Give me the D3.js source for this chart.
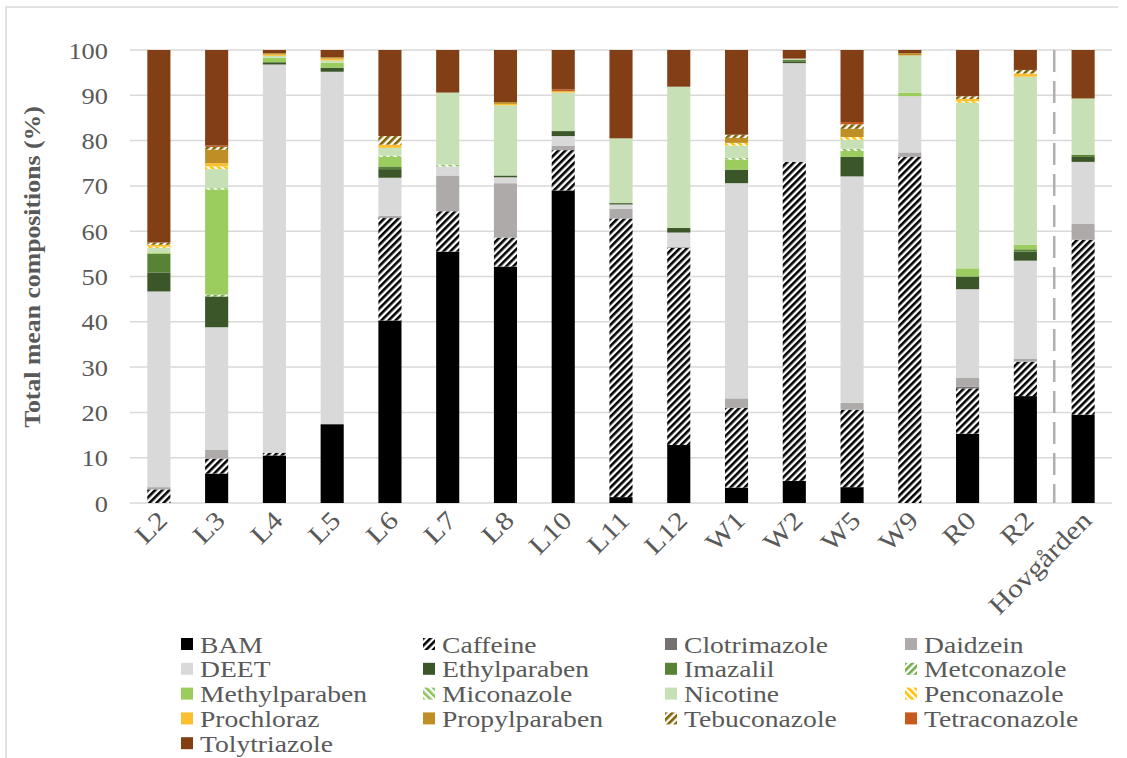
<!DOCTYPE html>
<html>
<head>
<meta charset="utf-8">
<script src="https://cdn.jsdelivr.net/npm/d3@7"></script>
<style>
  html, body { margin: 0; padding: 0; background: #ffffff; }
  svg { display: block; }
  text { font-family: "Liberation Serif", "Times New Roman", serif; fill: #595959; }
</style>
</head>
<body>
<svg id="chart" width="1127" height="758"></svg>
<script>
// Sampling sites along the x axis
const sites = ["L2", "L3", "L4", "L5", "L6", "L7", "L8", "L10", "L11", "L12",
               "W1", "W2", "W5", "W9", "R0", "R2", "Hovgården"];

// Mean composition (%) of each compound per site
const BAM           = [0, 6.5, 10.5, 17.4, 40.3, 55.5, 52.2, 69.0, 1.3, 12.8, 3.4, 4.9, 3.5, 0, 15.3, 23.6, 19.5];
const Caffeine      = [3.0, 3.3, 0.6, 0, 22.6, 8.9, 6.4, 8.9, 61.5, 43.5, 17.6, 70.4, 17.1, 76.4, 10.0, 7.6, 38.6];
const Clotrimazole  = [0, 0, 0, 0, 0, 0, 0, 0, 0, 0, 0, 0, 0, 0, 0.4, 0, 0];
const Daidzein      = [0.5, 1.9, 0, 0, 0.5, 7.9, 12.0, 1.0, 2.1, 0.3, 2.1, 0, 1.5, 1.0, 2.0, 0.7, 3.6];
const DEET          = [43.2, 27.1, 85.7, 77.8, 8.4, 2.0, 1.3, 2.1, 1.0, 3.1, 47.5, 21.8, 50.0, 12.4, 19.5, 21.6, 13.6];
const Ethylparaben  = [4.2, 6.8, 0.5, 0.9, 1.9, 0, 0.4, 1.1, 0.3, 1.0, 3.0, 0.4, 4.3, 0, 2.8, 2.0, 1.1];
const Imazalil      = [4.1, 0, 0, 0, 0.6, 0, 0, 0, 0, 0, 0, 0.3, 0, 0, 0, 0.5, 0.5];
const Metconazole   = [0, 0.4, 0, 0, 0, 0, 0, 0, 0, 0, 0, 0, 0, 0, 0, 0, 0];
const Methylparaben = [0.3, 23.2, 1.0, 1.1, 2.1, 0, 0, 0, 0, 0, 2.2, 0, 1.3, 0.8, 1.8, 1.0, 0];
const Miconazole    = [0, 0.3, 0, 0, 0.3, 0.4, 0, 0, 0, 0, 0.4, 0, 0.5, 0, 0, 0, 0];
const Nicotine      = [1.0, 4.2, 0.4, 0.5, 1.7, 15.9, 15.5, 8.5, 14.3, 31.2, 2.7, 0.3, 2.0, 8.2, 36.5, 37.1, 12.4];
const Penconazole   = [0.3, 0.6, 0, 0, 0, 0, 0, 0, 0, 0, 0.6, 0, 0.6, 0, 0.4, 0, 0];
const Prochloraz    = [0.4, 0.7, 0.3, 0.4, 0.7, 0, 0.3, 0.3, 0, 0, 0, 0, 0, 0, 0.5, 0.7, 0];
const Propylparaben = [0, 3.0, 0.3, 0.3, 0, 0, 0.4, 0, 0, 0, 1.1, 0, 1.8, 0.5, 0, 0, 0];
const Tebuconazole  = [0.5, 0.6, 0, 0, 1.9, 0, 0, 0, 0, 0, 0.7, 0, 1.0, 0, 0.6, 0.8, 0];
const Tetraconazole = [0, 0.3, 0, 0, 0, 0, 0, 0.4, 0, 0, 0, 0, 0.5, 0, 0, 0, 0];
const Tolytriazole  = [42.5, 21.1, 0.7, 1.6, 19.0, 9.4, 11.5, 8.7, 19.5, 8.1, 18.7, 1.9, 15.9, 0.7, 10.2, 4.4, 10.7];

const yTicks = [0, 10, 20, 30, 40, 50, 60, 70, 80, 90, 100];

// Series in stacking order (bottom to top), with fill style
const series = [
  { name: "BAM",           values: BAM,           color: "#000000" },
  { name: "Caffeine",      values: Caffeine,      color: "#000000", hatch: "up" },
  { name: "Clotrimazole",  values: Clotrimazole,  color: "#767171" },
  { name: "Daidzein",      values: Daidzein,      color: "#aeaaaa" },
  { name: "DEET",          values: DEET,          color: "#d9d9d9" },
  { name: "Ethylparaben",  values: Ethylparaben,  color: "#3b5628" },
  { name: "Imazalil",      values: Imazalil,      color: "#588337" },
  { name: "Metconazole",   values: Metconazole,   color: "#70ad47", hatch: "up" },
  { name: "Methylparaben", values: Methylparaben, color: "#9bcc5e" },
  { name: "Miconazole",    values: Miconazole,    color: "#8cc15a", hatch: "down" },
  { name: "Nicotine",      values: Nicotine,      color: "#c8e0b6" },
  { name: "Penconazole",   values: Penconazole,   color: "#ffc000", hatch: "down" },
  { name: "Prochloraz",    values: Prochloraz,    color: "#fbbf2f" },
  { name: "Propylparaben", values: Propylparaben, color: "#bf8f25" },
  { name: "Tebuconazole",  values: Tebuconazole,  color: "#7f6000", hatch: "up" },
  { name: "Tetraconazole", values: Tetraconazole, color: "#c55a1c" },
  { name: "Tolytriazole",  values: Tolytriazole,  color: "#823f16" }
];

const svg = d3.select("#chart");
const W = 1127, H = 758;
const plot = { left: 130, right: 1112, top: 50, bottom: 503 };

// Hatch patterns
const defs = svg.append("defs");
series.forEach((s, i) => {
  if (!s.hatch) return;
  const p = defs.append("pattern")
    .attr("id", "hatch" + i)
    .attr("patternUnits", "userSpaceOnUse")
    .attr("width", 5).attr("height", 5)
    .attr("patternTransform", s.hatch === "up" ? "rotate(45)" : "rotate(-45)");
  p.append("rect").attr("width", 5).attr("height", 5).attr("fill", "#ffffff");
  p.append("rect").attr("width", 2.6).attr("height", 5).attr("fill", s.color);
});
const fillOf = (s, i) => s.hatch ? `url(#hatch${i})` : s.color;

// Chart frame
svg.append("path")
  .attr("d", `M6,${H} L6,7 L1118,7`)
  .attr("fill", "none").attr("stroke", "#d9d9d9").attr("stroke-width", 1.5);

const x = d3.scaleBand().domain(sites).range([plot.left, plot.right])
  .paddingInner(0.6).paddingOuter(0.3);
const y = d3.scaleLinear().domain([0, 100]).range([plot.bottom, plot.top]);

// Gridlines
svg.append("g").selectAll("line").data(yTicks).join("line")
  .attr("x1", plot.left).attr("x2", plot.right)
  .attr("y1", d => y(d)).attr("y2", d => y(d))
  .attr("stroke", "#d9d9d9").attr("stroke-width", 1.5);

// Y tick labels
svg.append("g").selectAll("text").data(yTicks).join("text")
  .attr("transform", d => `translate(108,${y(d) + 8.5}) scale(1.1,1)`)
  .attr("text-anchor", "end")
  .attr("font-size", 24)
  .text(d => d);

// Y axis title
svg.append("text")
  .attr("transform", "translate(40,267) rotate(-90) scale(1.12,1)")
  .attr("text-anchor", "middle")
  .attr("font-size", 23).attr("font-weight", "bold")
  .text("Total mean compositions (%)");

// Stacked bars
const table = sites.map((site, j) => {
  const row = { site };
  series.forEach(s => { row[s.name] = s.values[j]; });
  return row;
});
const stacked = d3.stack().keys(series.map(s => s.name))(table);

const layers = svg.append("g").selectAll("g").data(stacked).join("g")
  .attr("fill", (d, i) => fillOf(series[i], i));
layers.selectAll("rect").data(d => d.filter(v => v[1] - v[0] > 0)).join("rect")
  .attr("x", d => x(d.data.site))
  .attr("width", x.bandwidth())
  .attr("y", d => y(d[1]))
  .attr("height", d => y(d[0]) - y(d[1]));

// Divider between the sites and Hovgården
const xDiv = (x("R2") + x.bandwidth() + x("Hovgården")) / 2;
svg.append("line")
  .attr("x1", xDiv).attr("x2", xDiv)
  .attr("y1", y(100)).attr("y2", y(0))
  .attr("stroke", "#b0b0b0").attr("stroke-width", 2.5)
  .attr("stroke-dasharray", "22,9");

// X axis labels
svg.append("g").selectAll("text").data(sites).join("text")
  .attr("transform", d => `translate(${x(d) + x.bandwidth() / 2 + 10},522) rotate(-45) scale(1.15,1)`)
  .attr("text-anchor", "end")
  .attr("font-size", 26)
  .text(d => d);

// Legend: four columns, row-major order
const legCols = [181, 423, 665, 905];
const legTop = 644, legStep = 24.8;
const leg = svg.append("g").selectAll("g").data(series).join("g")
  .attr("transform", (d, i) => `translate(${legCols[i % 4]},${legTop + Math.floor(i / 4) * legStep})`);
leg.append("rect")
  .attr("x", 0).attr("y", -6).attr("width", 12).attr("height", 12)
  .attr("fill", (d, i) => fillOf(d, i));
leg.append("text")
  .attr("transform", "translate(19,8.5) scale(1.15,1)")
  .attr("font-size", 24)
  .text(d => d.name);
</script>
</body>
</html>
